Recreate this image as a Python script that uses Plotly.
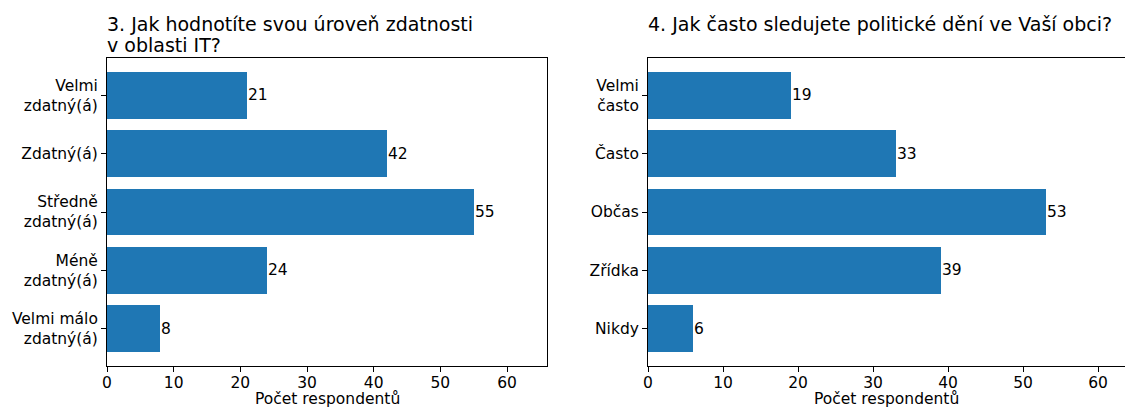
import plotly.graph_objects as go

# Question 3: self-rated IT proficiency
it_categories = ["Velmi<br>zdatný(á)", "Zdatný(á)", "Středně<br>zdatný(á)", "Méně<br>zdatný(á)", "Velmi málo<br>zdatný(á)"]
it_counts = [21, 42, 55, 24, 8]

# Question 4: how often local politics is followed
pol_categories = ["Velmi<br>často", "Často", "Občas", "Zřídka", "Nikdy"]
pol_counts = [19, 33, 53, 39, 6]

x_ticks = [0, 10, 20, 30, 40, 50, 60]
x_title = "Počet respondentů"
titles = [["3. Jak hodnotíte svou úroveň zdatnosti", "v oblasti IT?"],
          ["4. Jak často sledujete politické dění ve Vaší obci?"]]

W, H = 1125, 410
FONT = "DejaVu Sans"
BAR = "#1f77b4"
TICK_SIZE = 15.5

fig = go.Figure()

panels = [
    (it_categories, it_counts, "x", "y", (107 / W, 547 / W)),
    (pol_categories, pol_counts, "x2", "y2", (648 / W, 1.0)),
]
y_dom = (1 - 366 / H, 1 - 58 / H)

for i, (cats, vals, xa, ya, xdom) in enumerate(panels):
    n = len(cats)
    ypos = list(range(n - 1, -1, -1))
    fig.add_trace(go.Bar(
        x=vals, y=ypos, orientation="h", width=0.8,
        marker=dict(color=BAR, line=dict(width=0)),
        xaxis=xa, yaxis=ya, showlegend=False, hoverinfo="skip",
    ))
    for v, yp in zip(vals, ypos):
        fig.add_annotation(
            x=v, y=yp, xref=xa, yref=ya, text=str(v), showarrow=False,
            xanchor="left", yanchor="middle", xshift=-1,
            font=dict(family=FONT, size=TICK_SIZE, color="black"),
        )
    xmax = max(vals) * 1.2
    ax_common = dict(showline=True, linecolor="black", linewidth=1,
                     ticks="outside", ticklen=5, tickcolor="black", tickwidth=1,
                     showgrid=False, zeroline=False, automargin=False,
                     tickfont=dict(family=FONT, size=TICK_SIZE, color="black"))
    xkey = "xaxis" if i == 0 else "xaxis2"
    ykey = "yaxis" if i == 0 else "yaxis2"
    fig.update_layout(**{
        xkey: dict(domain=list(xdom), range=[0, xmax], tickvals=x_ticks,
                   anchor=ya, ticklabelstandoff=-3, mirror=True, **ax_common),
        # the right-hand panel runs to the page edge, so its right frame line is cut off
        ykey: dict(domain=list(y_dom), range=[-0.64, n - 1 + 0.64],
                   tickvals=ypos, ticktext=cats, anchor=xa,
                   mirror=(i == 0), **ax_common),
    })
    # x-axis title centred under the panel
    fig.add_annotation(
        x=(xdom[0] + xdom[1]) / 2, y=1 - 399 / H, xref="paper", yref="paper",
        text=x_title, showarrow=False, xanchor="center", yanchor="middle",
        font=dict(family=FONT, size=TICK_SIZE, color="black"),
    )
    # subplot title, one annotation per line
    for j, line in enumerate(titles[i]):
        fig.add_annotation(
            x=xdom[0], y=1 - (24 + 21 * j) / H, xref="paper", yref="paper",
            text=line, showarrow=False, xanchor="left", yanchor="middle",
            xshift=-2, font=dict(family=FONT, size=19, color="black"),
        )

fig.update_layout(
    width=W, height=H, margin=dict(l=0, r=0, t=0, b=0),
    paper_bgcolor="white", plot_bgcolor="white",
    bargap=0,
)

fig.write_html("out.html")
